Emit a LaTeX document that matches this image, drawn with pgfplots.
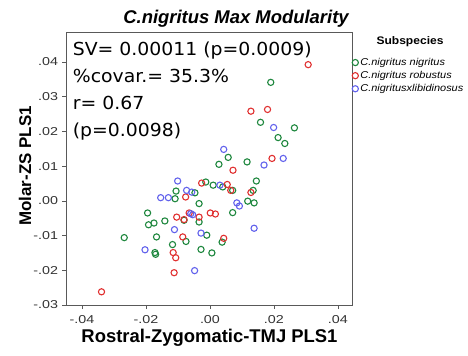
\documentclass[border=0pt]{standalone}
\usepackage{fontspec}
\setmainfont{Liberation Sans}
\newfontfamily\annfont[FakeStretch=1.05]{DejaVu Sans}
\newfontfamily\widesans[FakeStretch=1.1]{Liberation Sans}
\newfontfamily\ticksans[FakeStretch=1.25]{Liberation Sans}
\usepackage{pgfplots}
\pgfplotsset{compat=1.18}

\definecolor{cgreen}{RGB}{30,135,62}
\definecolor{cred}{RGB}{224,48,48}
\definecolor{cblue}{RGB}{98,98,236}

\begin{document}
\begin{tikzpicture}[x=1bp,y=1bp]
\path[use as bounding box] (-66,-50) rectangle (402,305);
\begin{axis}[
  at={(0,0)}, anchor=south west,
  scale only axis, width=286bp, height=273bp,
  xmin=-0.045, xmax=0.0444, ymin=-0.03, ymax=0.0486,
  scaled ticks=false,
  axis line style={black!65, line width=0.7pt},
  xtick={-0.04,-0.02,0,0.02,0.04},
  xticklabels={-.04,-.02,.00,.02,.04},
  ytick={-0.03,-0.02,-0.01,0,0.01,0.02,0.03,0.04},
  yticklabels={-.03,-.02,-.01,.00,.01,.02,.03,.04},
  xtick pos=bottom, ytick pos=left,
  tick align=outside, major tick length=4bp,
  tick style={black!65, line width=0.6pt},
  ticklabel style={font=\ticksans\fontsize{11.5}{11.5}\selectfont, text=black!80},
  xticklabel style={yshift=-3bp},
  yticklabel style={xshift=-0.5bp},
  clip=false,
  legend style={at={(rel axis cs:1,0.912)}, anchor=north west,
    draw=none, fill=none, inner sep=0pt, row sep=0.4bp,
    font=\widesans\fontsize{10}{10.5}\selectfont\itshape,
    cells={anchor=west}},
  legend cell align=left,
  every axis plot/.append style={only marks, mark=o, mark size=3.1bp, line width=1.1pt},
]
% C. nigritus nigritus
\addplot[cgreen] coordinates {
(0.0190,0.0341) (0.0158,0.0226) (0.0264,0.0210) (0.0213,0.0182) (0.0234,0.0165)
(0.0057,0.0125) (0.0028,0.0105) (0.0116,0.0112) (0.0145,0.0057) (-0.0013,0.0054)
(0.0010,0.0045) (0.0040,0.0040) (0.0071,0.0030) (0.0135,0.0030) (-0.0106,0.0028)
(-0.0047,0.0023) (-0.0109,0.0006) (0.0118,-0.0001) (0.0138,-0.0006) (-0.0034,-0.0008)
(0.0071,-0.0034) (-0.0195,-0.0035) (-0.0192,-0.0069) (-0.0175,-0.0064) (-0.0141,-0.0058)
(-0.0081,-0.0056) (-0.0034,-0.0061) (-0.0010,-0.0099) (-0.0167,-0.0104) (-0.0268,-0.0106)
(-0.0075,-0.0117) (0.0038,-0.0119) (-0.0117,-0.0126) (-0.0172,-0.0149) (-0.0170,-0.0154)
(-0.0028,-0.0140) (0.0006,-0.0150)
};
\addlegendentry{C.nigritus nigritus}
% C. nigritus robustus
\addplot[cred] coordinates {
(0.0307,0.0392) (0.0128,0.0258) (0.0180,0.0263) (0.0194,0.0122) (0.0072,0.0088)
(-0.0026,0.0051) (0.0054,0.0047) (0.0065,0.0030) (0.0128,0.0024) (-0.0076,0.0011)
(-0.0104,-0.0047) (-0.0081,-0.0054) (-0.0065,-0.0035) (-0.0034,-0.0047) (0.0001,-0.0035)
(0.0017,-0.0038) (-0.0085,-0.0104) (0.0043,-0.0108) (-0.0115,-0.0149) (-0.0107,-0.0164)
(-0.0112,-0.0207) (-0.0339,-0.0262)
};
\addlegendentry{C.nigritus robustus}
% C. nigritus x libidinosus
\addplot[cblue] coordinates {
(0.0199,0.0211) (0.0043,0.0148) (0.0229,0.0122) (0.0169,0.0103) (-0.0101,0.0057)
(0.0031,0.0045) (-0.0073,0.0030) (-0.0057,0.0025) (-0.0154,0.0009) (-0.0130,0.0009)
(0.0084,-0.0006) (0.0092,-0.0015) (-0.0060,-0.0037) (-0.0054,-0.0040) (-0.0111,-0.0083)
(-0.0028,-0.0093) (0.0138,-0.0079) (-0.0203,-0.0141) (-0.0048,-0.0201)
};
\addlegendentry{C.nigritusxlibidinosus}
\end{axis}
% titles and labels
\node[font=\fontsize{18.5}{19}\selectfont\bfseries\itshape] at (170,286) {C.nigritus Max Modularity};
\node[font=\fontsize{17}{18}\selectfont\bfseries, rotate=90] at (-41,139) {Molar-ZS PLS1};
\node[font=\fontsize{18.5}{19}\selectfont\bfseries] at (143.5,-33) {Rostral-Zygomatic-TMJ PLS1};
\node[font=\widesans\fontsize{11}{12}\selectfont\bfseries] at (344,263) {Subspecies};
% statistics
\begin{scope}[every node/.style={anchor=base west, inner sep=0pt, font=\annfont\fontsize{18}{20}\selectfont}]
\node at (6.7,250) {SV= 0.00011 (p=0.0009)};
\node at (6.7,222.3) {\%covar.= 35.3\%};
\node at (6.7,196) {r= 0.67};
\node at (6.7,168.3) {(p=0.0098)};
\end{scope}
\end{tikzpicture}
\end{document}
